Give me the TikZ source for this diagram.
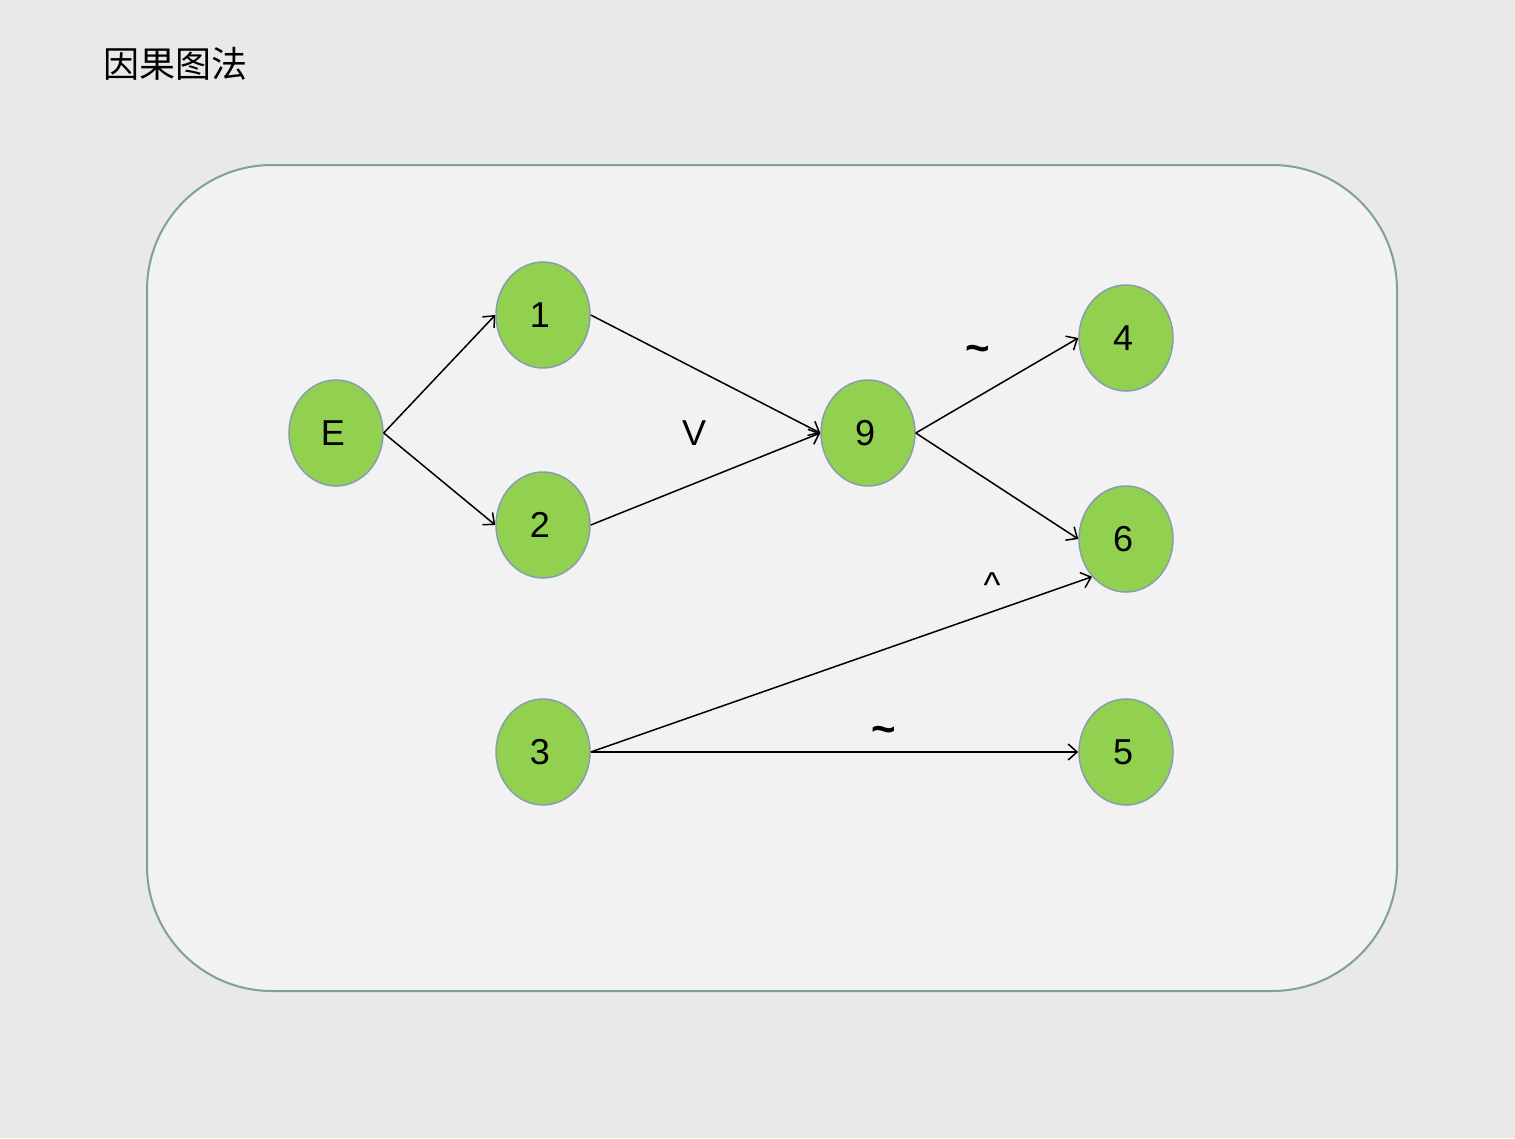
\documentclass[tikz,border=0pt]{standalone}
\usepackage{fontspec}
\setmainfont{Liberation Sans}
\newfontfamily\cjk{Noto Sans CJK SC}
\usetikzlibrary{shapes.geometric,arrows.meta}
\definecolor{paper}{HTML}{E9E9E9}
\definecolor{panel}{HTML}{F2F2F2}
\definecolor{panelline}{HTML}{7F9FA0}
\definecolor{leaf}{HTML}{92D050}
\definecolor{leafline}{HTML}{8A9DB0}
\tikzset{
  state/.style={ellipse, draw=leafline, fill=leaf, line width=1.5pt,
    minimum width=94pt, minimum height=106pt, inner sep=0pt,
    font=\fontsize{36}{40}\selectfont,
    execute at begin node=\hspace*{-6pt}},
  link/.style={line width=1.5pt, -{Straight Barb[length=9pt,width=16pt,line width=1.5pt]}},
  mark label/.style={font=\fontsize{36}{40}\selectfont},
  tilde label/.style={font=\bfseries\fontsize{42}{44}\selectfont}
}
\begin{document}
\begin{tikzpicture}[x=1pt,y=-1pt]
  \fill[paper] (0,0) rectangle (1515,1138);
  \useasboundingbox (0,0) rectangle (1515,1138);
  \node[font=\cjk\fontsize{36}{40}\selectfont] (title) at (175,64) {因果图法};
  \draw[fill=panel, draw=panelline, line width=2pt, rounded corners=125pt]
    (147,165) rectangle (1397,991);

  \node[state] (E) at (336,433) {E};
  \node[state] (n1) at (543,315) {1};
  \node[state] (n2) at (543,525) {2};
  \node[state] (n9) at (868,433) {9};
  \node[state] (n4) at (1126,338) {4};
  \node[state] (n6) at (1126,539) {6};
  \node[state] (n3) at (543,752) {3};
  \node[state] (n5) at (1126,752) {5};

  \draw[link] (E.east) -- (n1.west);
  \draw[link] (E.east) -- (n2.west);
  \draw[link] (n1.east) -- (n9.west);
  \draw[link] (n2.east) -- (n9.west);
  \draw[link] (n9.east) -- (n4.west);
  \draw[link] (n9.east) -- (n6.west);
  \draw[link] (n3.east) -- (n6.228);
  \draw[link] (n3.east) -- (n5.west);

  \node[mark label] (lor) at (694,433) {V};
  \node[tilde label] (lnot1) at (978,354) {\char`~};
  \node[mark label] (land) at (992,585) {\char`^};
  \node[tilde label] (lnot2) at (884,735) {\char`~};
\end{tikzpicture}
\end{document}
